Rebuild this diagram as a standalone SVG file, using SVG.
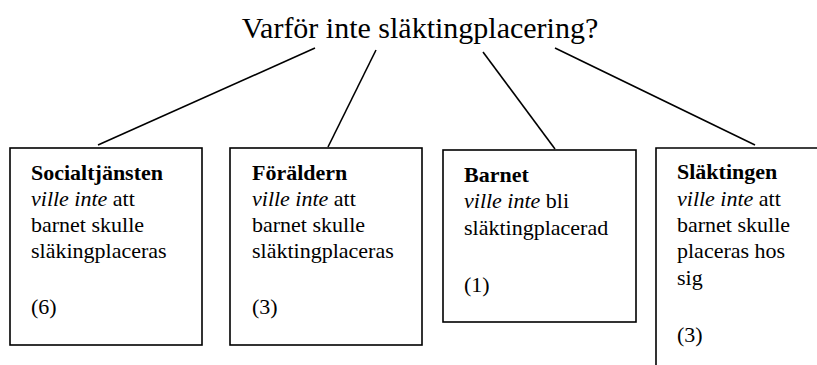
<svg xmlns="http://www.w3.org/2000/svg" width="817" height="365" viewBox="0 0 817 365" font-family="'Liberation Serif', 'Times New Roman', 'DejaVu Serif', serif">
<style>
.t{font-size:30px}
.b{font-size:22px}
.h{font-weight:bold}
.i{font-style:italic}
.box{fill:#fff;stroke:#000;stroke-width:1.6}
.c{stroke:#000;stroke-width:1.6;fill:none}
</style>
<rect width="817" height="365" fill="#fff"/>
<g id="connectors">
<line class="c" x1="315" y1="48" x2="98" y2="145"/>
<line class="c" x1="376" y1="50" x2="328" y2="147"/>
<line class="c" x1="483" y1="52" x2="555" y2="149"/>
<line class="c" x1="555" y1="48" x2="755" y2="145"/>
</g>
<g id="title">
<text class="t" x="420" y="38" text-anchor="middle" font-family="Liberation Serif, serif">Varför inte släktingplacering?</text>
</g>
<g id="socialtjansten">
<rect class="box" x="10" y="148" width="192" height="197"/>
<text class="b" x="31"><tspan class="h" x="31" y="180">Socialtjänsten</tspan><tspan x="31" y="206"><tspan class="i">ville inte</tspan> att</tspan><tspan x="31" y="232">barnet skulle</tspan><tspan x="31" y="258">släkingplaceras</tspan><tspan x="31" y="314">(6)</tspan></text>
</g>
<g id="foraldern">
<rect class="box" x="230" y="148" width="192" height="197"/>
<text class="b" x="252"><tspan class="h" x="252" y="180">Föräldern</tspan><tspan x="252" y="206"><tspan class="i">ville inte</tspan> att</tspan><tspan x="252" y="232">barnet skulle</tspan><tspan x="252" y="258">släktingplaceras</tspan><tspan x="252" y="314">(3)</tspan></text>
</g>
<g id="barnet">
<rect class="box" x="443" y="150" width="193" height="172"/>
<text class="b" x="464"><tspan class="h" x="464" y="182">Barnet</tspan><tspan x="464" y="208"><tspan class="i">ville inte</tspan> bli</tspan><tspan x="464" y="235">släktingplacerad</tspan><tspan x="464" y="292">(1)</tspan></text>
</g>
<g id="slaktingen">
<path class="box" d="M656,365 V148 H817"/>
<text class="b" x="677"><tspan class="h" x="677" y="179">Släktingen</tspan><tspan x="677" y="206"><tspan class="i">ville inte</tspan> att</tspan><tspan x="677" y="232">barnet skulle</tspan><tspan x="677" y="258">placeras hos</tspan><tspan x="677" y="285">sig</tspan><tspan x="677" y="342">(3)</tspan></text>
</g>
</svg>
